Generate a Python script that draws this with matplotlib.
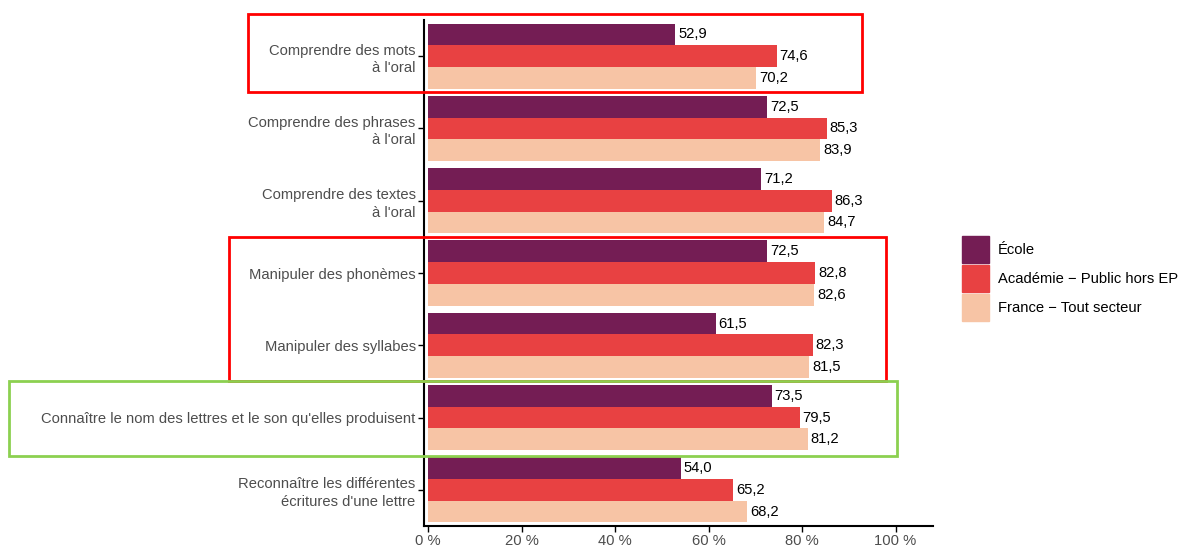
import numpy as np
import matplotlib.pyplot as plt
from matplotlib.patches import Rectangle

plt.rcParams['font.family'] = ['Liberation Sans', 'DejaVu Sans']

# data
categories = ["Comprendre des mots\nà l'oral",
              "Comprendre des phrases\nà l'oral",
              "Comprendre des textes\nà l'oral",
              "Manipuler des phonèmes",
              "Manipuler des syllabes",
              "Connaître le nom des lettres et le son qu'elles produisent",
              "Reconnaître les différentes\nécritures d'une lettre"]
ecole = [52.9, 72.5, 71.2, 72.5, 61.5, 73.5, 54.0]
academie = [74.6, 85.3, 86.3, 82.8, 82.3, 79.5, 65.2]
france = [70.2, 83.9, 84.7, 82.6, 81.5, 81.2, 68.2]
series_names = ["École", "Académie − Public hors EP", "France − Tout secteur"]
colors = ["#741D54", "#E84142", "#F7C4A5"]
xticks = [0, 20, 40, 60, 80, 100]
xticklabels = ["0 %", "20 %", "40 %", "60 %", "80 %", "100 %"]

W, H = 1179, 546
fs = 10.6
fig = plt.figure(figsize=(W / 100, H / 100), dpi=100)
ax = fig.add_axes([424 / W, 1 - 526 / H, (933 - 424) / W, (526 - 20) / H])

y = np.arange(len(categories))
bh = 0.3
for i, (vals, col) in enumerate(zip([ecole, academie, france], colors)):
    pos = y + (i - 1) * bh
    ax.barh(pos, vals, height=bh, color=col, label=series_names[i])
    for p, v in zip(pos, vals):
        ax.text(v + 0.6, p, f"{v:.1f}".replace('.', ','), va='center', ha='left',
                fontsize=fs, color='black',
                bbox=dict(facecolor='white', edgecolor='none', pad=1.2))

ax.set_ylim(len(categories) - 0.5, -0.5)
ax.set_xlim(-0.9, 108)
ax.set_yticks(y)
ax.set_yticklabels(categories, fontsize=fs, color='#4D4D4D', linespacing=1.3)
ax.set_xticks(xticks)
ax.set_xticklabels(xticklabels, fontsize=fs, color='#4D4D4D')
ax.tick_params(axis='both', length=4, width=1, color='black', pad=2)
for s in ['top', 'right']:
    ax.spines[s].set_visible(False)
for s in ['left', 'bottom']:
    ax.spines[s].set_linewidth(1.5)

# legend
handles = [Rectangle((0, 0), 1, 1, color=c) for c in colors]
fig.legend(handles, series_names, loc='upper left', bbox_to_anchor=(959 / W, 1 - 233 / H),
           frameon=False, fontsize=fs, handlelength=1.85, handleheight=2.44,
           handletextpad=0.6, labelspacing=0.14, borderaxespad=0, borderpad=0.2)

# highlight boxes (pixel positions)
def box(x0, y0, x1, y1, col):
    fig.patches.append(Rectangle((x0 / W, 1 - y1 / H), (x1 - x0) / W, (y1 - y0) / H,
                                 transform=fig.transFigure, fill=False,
                                 edgecolor=col, linewidth=2, zorder=10))

box(248, 14, 862, 92, '#FF0000')
box(229, 237, 886, 381, '#FF0000')
box(9, 381, 897, 456, '#8CD050')

fig.savefig('out.png', dpi=100)
